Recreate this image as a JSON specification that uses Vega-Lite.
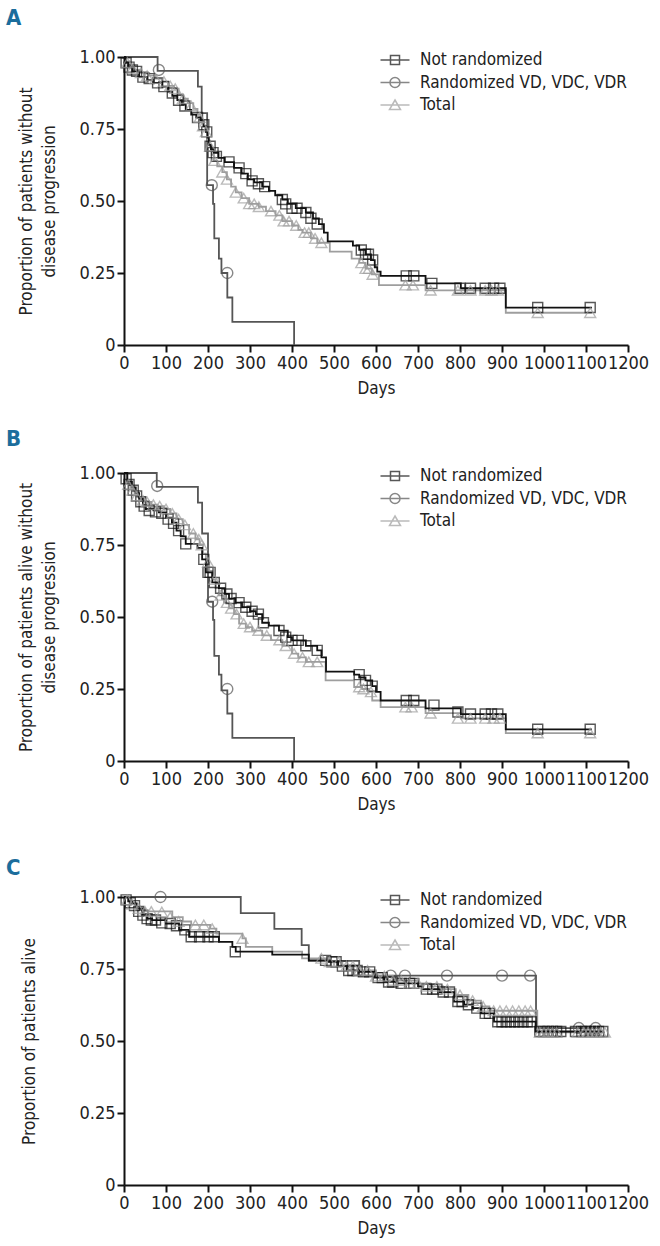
{
  "$schema": "https://vega.github.io/schema/vega-lite/v6.json",
  "padding": {"left": 6, "top": 7, "right": 5, "bottom": 5},
  "spacing": 32,
  "resolve": {"scale": {"color": "independent", "shape": "independent"}},
  "config": {
    "font": "DejaVu Sans Condensed, DejaVu Sans, sans-serif",
    "view": {"stroke": null},
    "axis": {"grid": false, "domainColor": "#111", "domainWidth": 2, "tickColor": "#111", "tickWidth": 2, "tickSize": 7, "labelFont": "DejaVu Sans Condensed, DejaVu Sans, sans-serif", "labelFontSize": 18, "labelColor": "#222", "labelPadding": 2, "titleFont": "DejaVu Sans Condensed, DejaVu Sans, sans-serif", "titleFontSize": 17, "titleFontWeight": "normal", "titleColor": "#222", "titleLineHeight": 23},
    "legend": {"orient": "none", "legendX": 260, "legendY": -8, "padding": 0, "labelFont": "DejaVu Sans Condensed, DejaVu Sans, sans-serif", "labelFontSize": 17, "labelColor": "#222", "labelOffset": 14, "rowPadding": 3.5, "symbolSize": 400, "symbolStrokeWidth": 1.5, "labelLimit": 400},
    "title": {"anchor": "start", "frame": "group", "dx": -118, "font": "DejaVu Sans Condensed, DejaVu Sans, sans-serif", "fontSize": 22, "fontWeight": "bold", "color": "#1b6d9c", "offset": 18}
  },
  "datasets": {
    "km": [
      {"p":"A","g":"N","d":0,"s":1},{"p":"A","g":"N","d":4,"s":0.98},{"p":"A","g":"N","d":10,"s":0.965},{"p":"A","g":"N","d":20,"s":0.95},{"p":"A","g":"N","d":36,"s":0.93},{"p":"A","g":"N","d":55,"s":0.92},{"p":"A","g":"N","d":70,"s":0.91},{"p":"A","g":"N","d":91,"s":0.897},{"p":"A","g":"N","d":105,"s":0.88},{"p":"A","g":"N","d":115,"s":0.865},{"p":"A","g":"N","d":127,"s":0.85},{"p":"A","g":"N","d":138,"s":0.835},{"p":"A","g":"N","d":147,"s":0.816},{"p":"A","g":"N","d":160,"s":0.8},{"p":"A","g":"N","d":172,"s":0.79},{"p":"A","g":"N","d":183,"s":0.78},{"p":"A","g":"N","d":190,"s":0.76},{"p":"A","g":"N","d":195,"s":0.74},{"p":"A","g":"N","d":199,"s":0.72},{"p":"A","g":"N","d":202,"s":0.695},{"p":"A","g":"N","d":207,"s":0.68},{"p":"A","g":"N","d":214,"s":0.667},{"p":"A","g":"N","d":225,"s":0.65},{"p":"A","g":"N","d":240,"s":0.635},{"p":"A","g":"N","d":262,"s":0.615},{"p":"A","g":"N","d":280,"s":0.595},{"p":"A","g":"N","d":295,"s":0.575},{"p":"A","g":"N","d":310,"s":0.565},{"p":"A","g":"N","d":329,"s":0.55},{"p":"A","g":"N","d":345,"s":0.535},{"p":"A","g":"N","d":360,"s":0.52},{"p":"A","g":"N","d":377,"s":0.505},{"p":"A","g":"N","d":390,"s":0.49},{"p":"A","g":"N","d":409,"s":0.475},{"p":"A","g":"N","d":433,"s":0.46},{"p":"A","g":"N","d":450,"s":0.44},{"p":"A","g":"N","d":464,"s":0.42},{"p":"A","g":"N","d":476,"s":0.39},{"p":"A","g":"N","d":485,"s":0.36},{"p":"A","g":"N","d":545,"s":0.345},{"p":"A","g":"N","d":560,"s":0.33},{"p":"A","g":"N","d":575,"s":0.315},{"p":"A","g":"N","d":588,"s":0.295},{"p":"A","g":"N","d":597,"s":0.27},{"p":"A","g":"N","d":603,"s":0.255},{"p":"A","g":"N","d":611,"s":0.24},{"p":"A","g":"N","d":718,"s":0.214},{"p":"A","g":"N","d":802,"s":0.197},{"p":"A","g":"N","d":909,"s":0.13},{"p":"A","g":"N","d":1114,"s":0.13},
      {"p":"A","g":"T","d":0,"s":1},{"p":"A","g":"T","d":5,"s":0.985},{"p":"A","g":"T","d":12,"s":0.97},{"p":"A","g":"T","d":25,"s":0.955},{"p":"A","g":"T","d":40,"s":0.945},{"p":"A","g":"T","d":60,"s":0.935},{"p":"A","g":"T","d":75,"s":0.925},{"p":"A","g":"T","d":90,"s":0.915},{"p":"A","g":"T","d":105,"s":0.9},{"p":"A","g":"T","d":119,"s":0.89},{"p":"A","g":"T","d":130,"s":0.87},{"p":"A","g":"T","d":140,"s":0.855},{"p":"A","g":"T","d":152,"s":0.84},{"p":"A","g":"T","d":165,"s":0.82},{"p":"A","g":"T","d":175,"s":0.8},{"p":"A","g":"T","d":182,"s":0.78},{"p":"A","g":"T","d":188,"s":0.76},{"p":"A","g":"T","d":194,"s":0.74},{"p":"A","g":"T","d":199,"s":0.71},{"p":"A","g":"T","d":204,"s":0.69},{"p":"A","g":"T","d":209,"s":0.66},{"p":"A","g":"T","d":214,"s":0.64},{"p":"A","g":"T","d":222,"s":0.62},{"p":"A","g":"T","d":234,"s":0.6},{"p":"A","g":"T","d":245,"s":0.575},{"p":"A","g":"T","d":255,"s":0.55},{"p":"A","g":"T","d":266,"s":0.53},{"p":"A","g":"T","d":280,"s":0.51},{"p":"A","g":"T","d":298,"s":0.49},{"p":"A","g":"T","d":321,"s":0.48},{"p":"A","g":"T","d":338,"s":0.465},{"p":"A","g":"T","d":361,"s":0.45},{"p":"A","g":"T","d":377,"s":0.43},{"p":"A","g":"T","d":400,"s":0.415},{"p":"A","g":"T","d":415,"s":0.4},{"p":"A","g":"T","d":425,"s":0.39},{"p":"A","g":"T","d":445,"s":0.37},{"p":"A","g":"T","d":460,"s":0.355},{"p":"A","g":"T","d":490,"s":0.324},{"p":"A","g":"T","d":542,"s":0.3},{"p":"A","g":"T","d":560,"s":0.285},{"p":"A","g":"T","d":575,"s":0.265},{"p":"A","g":"T","d":590,"s":0.245},{"p":"A","g":"T","d":607,"s":0.208},{"p":"A","g":"T","d":718,"s":0.19},{"p":"A","g":"T","d":909,"s":0.112},{"p":"A","g":"T","d":1114,"s":0.112},
      {"p":"A","g":"R","d":0,"s":1},{"p":"A","g":"R","d":80,"s":0.952},{"p":"A","g":"R","d":176,"s":0.897},{"p":"A","g":"R","d":185,"s":0.805},{"p":"A","g":"R","d":198,"s":0.555},{"p":"A","g":"R","d":212,"s":0.49},{"p":"A","g":"R","d":215,"s":0.37},{"p":"A","g":"R","d":226,"s":0.3},{"p":"A","g":"R","d":232,"s":0.25},{"p":"A","g":"R","d":246,"s":0.165},{"p":"A","g":"R","d":258,"s":0.08},{"p":"A","g":"R","d":405,"s":0},
      {"p":"B","g":"N","d":0,"s":1},{"p":"B","g":"N","d":8,"s":0.97},{"p":"B","g":"N","d":19,"s":0.95},{"p":"B","g":"N","d":28,"s":0.93},{"p":"B","g":"N","d":36,"s":0.91},{"p":"B","g":"N","d":45,"s":0.89},{"p":"B","g":"N","d":52,"s":0.875},{"p":"B","g":"N","d":70,"s":0.87},{"p":"B","g":"N","d":83,"s":0.863},{"p":"B","g":"N","d":100,"s":0.845},{"p":"B","g":"N","d":114,"s":0.828},{"p":"B","g":"N","d":125,"s":0.8},{"p":"B","g":"N","d":135,"s":0.78},{"p":"B","g":"N","d":147,"s":0.754},{"p":"B","g":"N","d":175,"s":0.74},{"p":"B","g":"N","d":186,"s":0.7},{"p":"B","g":"N","d":195,"s":0.655},{"p":"B","g":"N","d":210,"s":0.62},{"p":"B","g":"N","d":226,"s":0.6},{"p":"B","g":"N","d":240,"s":0.58},{"p":"B","g":"N","d":250,"s":0.564},{"p":"B","g":"N","d":265,"s":0.55},{"p":"B","g":"N","d":281,"s":0.534},{"p":"B","g":"N","d":300,"s":0.52},{"p":"B","g":"N","d":314,"s":0.51},{"p":"B","g":"N","d":329,"s":0.48},{"p":"B","g":"N","d":345,"s":0.47},{"p":"B","g":"N","d":369,"s":0.453},{"p":"B","g":"N","d":390,"s":0.43},{"p":"B","g":"N","d":400,"s":0.419},{"p":"B","g":"N","d":433,"s":0.4},{"p":"B","g":"N","d":460,"s":0.384},{"p":"B","g":"N","d":470,"s":0.36},{"p":"B","g":"N","d":481,"s":0.31},{"p":"B","g":"N","d":548,"s":0.3},{"p":"B","g":"N","d":560,"s":0.29},{"p":"B","g":"N","d":575,"s":0.28},{"p":"B","g":"N","d":591,"s":0.26},{"p":"B","g":"N","d":600,"s":0.24},{"p":"B","g":"N","d":611,"s":0.21},{"p":"B","g":"N","d":718,"s":0.183},{"p":"B","g":"N","d":802,"s":0.163},{"p":"B","g":"N","d":909,"s":0.11},{"p":"B","g":"N","d":1114,"s":0.11},
      {"p":"B","g":"T","d":0,"s":1},{"p":"B","g":"T","d":6,"s":0.97},{"p":"B","g":"T","d":15,"s":0.95},{"p":"B","g":"T","d":25,"s":0.93},{"p":"B","g":"T","d":35,"s":0.915},{"p":"B","g":"T","d":50,"s":0.9},{"p":"B","g":"T","d":65,"s":0.89},{"p":"B","g":"T","d":80,"s":0.885},{"p":"B","g":"T","d":95,"s":0.875},{"p":"B","g":"T","d":110,"s":0.86},{"p":"B","g":"T","d":125,"s":0.84},{"p":"B","g":"T","d":140,"s":0.82},{"p":"B","g":"T","d":155,"s":0.79},{"p":"B","g":"T","d":170,"s":0.77},{"p":"B","g":"T","d":180,"s":0.75},{"p":"B","g":"T","d":188,"s":0.72},{"p":"B","g":"T","d":195,"s":0.69},{"p":"B","g":"T","d":203,"s":0.66},{"p":"B","g":"T","d":210,"s":0.63},{"p":"B","g":"T","d":218,"s":0.6},{"p":"B","g":"T","d":226,"s":0.575},{"p":"B","g":"T","d":238,"s":0.55},{"p":"B","g":"T","d":250,"s":0.53},{"p":"B","g":"T","d":262,"s":0.51},{"p":"B","g":"T","d":274,"s":0.477},{"p":"B","g":"T","d":290,"s":0.465},{"p":"B","g":"T","d":305,"s":0.453},{"p":"B","g":"T","d":329,"s":0.436},{"p":"B","g":"T","d":350,"s":0.42},{"p":"B","g":"T","d":377,"s":0.4},{"p":"B","g":"T","d":400,"s":0.373},{"p":"B","g":"T","d":415,"s":0.36},{"p":"B","g":"T","d":433,"s":0.344},{"p":"B","g":"T","d":480,"s":0.28},{"p":"B","g":"T","d":548,"s":0.257},{"p":"B","g":"T","d":567,"s":0.25},{"p":"B","g":"T","d":583,"s":0.24},{"p":"B","g":"T","d":591,"s":0.21},{"p":"B","g":"T","d":611,"s":0.187},{"p":"B","g":"T","d":718,"s":0.166},{"p":"B","g":"T","d":802,"s":0.148},{"p":"B","g":"T","d":909,"s":0.097},{"p":"B","g":"T","d":1114,"s":0.097},
      {"p":"B","g":"R","d":0,"s":1},{"p":"B","g":"R","d":78,"s":0.952},{"p":"B","g":"R","d":176,"s":0.897},{"p":"B","g":"R","d":186,"s":0.79},{"p":"B","g":"R","d":200,"s":0.553},{"p":"B","g":"R","d":212,"s":0.49},{"p":"B","g":"R","d":215,"s":0.365},{"p":"B","g":"R","d":226,"s":0.3},{"p":"B","g":"R","d":232,"s":0.245},{"p":"B","g":"R","d":246,"s":0.165},{"p":"B","g":"R","d":258,"s":0.08},{"p":"B","g":"R","d":405,"s":0},
      {"p":"C","g":"N","d":0,"s":1},{"p":"C","g":"N","d":10,"s":0.985},{"p":"C","g":"N","d":20,"s":0.977},{"p":"C","g":"N","d":30,"s":0.96},{"p":"C","g":"N","d":43,"s":0.937},{"p":"C","g":"N","d":55,"s":0.925},{"p":"C","g":"N","d":67,"s":0.92},{"p":"C","g":"N","d":100,"s":0.908},{"p":"C","g":"N","d":131,"s":0.886},{"p":"C","g":"N","d":155,"s":0.862},{"p":"C","g":"N","d":226,"s":0.844},{"p":"C","g":"N","d":258,"s":0.827},{"p":"C","g":"N","d":266,"s":0.81},{"p":"C","g":"N","d":353,"s":0.8},{"p":"C","g":"N","d":440,"s":0.78},{"p":"C","g":"N","d":488,"s":0.775},{"p":"C","g":"N","d":510,"s":0.76},{"p":"C","g":"N","d":530,"s":0.745},{"p":"C","g":"N","d":560,"s":0.74},{"p":"C","g":"N","d":597,"s":0.72},{"p":"C","g":"N","d":620,"s":0.705},{"p":"C","g":"N","d":650,"s":0.7},{"p":"C","g":"N","d":700,"s":0.69},{"p":"C","g":"N","d":712,"s":0.68},{"p":"C","g":"N","d":752,"s":0.67},{"p":"C","g":"N","d":786,"s":0.637},{"p":"C","g":"N","d":810,"s":0.626},{"p":"C","g":"N","d":830,"s":0.614},{"p":"C","g":"N","d":850,"s":0.596},{"p":"C","g":"N","d":881,"s":0.567},{"p":"C","g":"N","d":980,"s":0.533},{"p":"C","g":"N","d":1140,"s":0.533},
      {"p":"C","g":"T","d":0,"s":1},{"p":"C","g":"T","d":15,"s":0.98},{"p":"C","g":"T","d":30,"s":0.96},{"p":"C","g":"T","d":50,"s":0.95},{"p":"C","g":"T","d":115,"s":0.93},{"p":"C","g":"T","d":140,"s":0.915},{"p":"C","g":"T","d":160,"s":0.903},{"p":"C","g":"T","d":205,"s":0.89},{"p":"C","g":"T","d":220,"s":0.873},{"p":"C","g":"T","d":282,"s":0.856},{"p":"C","g":"T","d":290,"s":0.827},{"p":"C","g":"T","d":353,"s":0.81},{"p":"C","g":"T","d":424,"s":0.787},{"p":"C","g":"T","d":488,"s":0.775},{"p":"C","g":"T","d":520,"s":0.76},{"p":"C","g":"T","d":560,"s":0.745},{"p":"C","g":"T","d":600,"s":0.725},{"p":"C","g":"T","d":640,"s":0.71},{"p":"C","g":"T","d":700,"s":0.7},{"p":"C","g":"T","d":730,"s":0.69},{"p":"C","g":"T","d":760,"s":0.68},{"p":"C","g":"T","d":790,"s":0.66},{"p":"C","g":"T","d":820,"s":0.64},{"p":"C","g":"T","d":850,"s":0.62},{"p":"C","g":"T","d":870,"s":0.605},{"p":"C","g":"T","d":984,"s":0.53},{"p":"C","g":"T","d":1145,"s":0.53},
      {"p":"C","g":"R","d":0,"s":1},{"p":"C","g":"R","d":278,"s":0.944},{"p":"C","g":"R","d":358,"s":0.889},{"p":"C","g":"R","d":423,"s":0.833},{"p":"C","g":"R","d":440,"s":0.778},{"p":"C","g":"R","d":560,"s":0.727},{"p":"C","g":"R","d":981,"s":0.545},{"p":"C","g":"R","d":1130,"s":0.545}
    ],
    "cens": [
      {"p":"A","g":"R","d":83,"s":0.955},{"p":"A","g":"R","d":209,"s":0.555},{"p":"A","g":"R","d":246,"s":0.25},
      {"p":"A","g":"N","d":5,"s":0.98},{"p":"A","g":"N","d":12,"s":0.965},{"p":"A","g":"N","d":20,"s":0.955},{"p":"A","g":"N","d":30,"s":0.95},{"p":"A","g":"N","d":45,"s":0.93},{"p":"A","g":"N","d":60,"s":0.925},{"p":"A","g":"N","d":80,"s":0.91},{"p":"A","g":"N","d":95,"s":0.897},{"p":"A","g":"N","d":115,"s":0.875},{"p":"A","g":"N","d":130,"s":0.85},{"p":"A","g":"N","d":145,"s":0.83},{"p":"A","g":"N","d":175,"s":0.79},{"p":"A","g":"N","d":190,"s":0.765},{"p":"A","g":"N","d":197,"s":0.74},{"p":"A","g":"N","d":205,"s":0.69},{"p":"A","g":"N","d":212,"s":0.668},{"p":"A","g":"N","d":220,"s":0.655},{"p":"A","g":"N","d":250,"s":0.636},{"p":"A","g":"N","d":274,"s":0.615},{"p":"A","g":"N","d":290,"s":0.595},{"p":"A","g":"N","d":305,"s":0.57},{"p":"A","g":"N","d":320,"s":0.56},{"p":"A","g":"N","d":335,"s":0.55},{"p":"A","g":"N","d":377,"s":0.505},{"p":"A","g":"N","d":385,"s":0.49},{"p":"A","g":"N","d":400,"s":0.475},{"p":"A","g":"N","d":412,"s":0.475},{"p":"A","g":"N","d":433,"s":0.46},{"p":"A","g":"N","d":445,"s":0.44},{"p":"A","g":"N","d":460,"s":0.42},{"p":"A","g":"N","d":565,"s":0.33},{"p":"A","g":"N","d":575,"s":0.315},{"p":"A","g":"N","d":582,"s":0.315},{"p":"A","g":"N","d":592,"s":0.295},{"p":"A","g":"N","d":672,"s":0.24},{"p":"A","g":"N","d":690,"s":0.24},{"p":"A","g":"N","d":733,"s":0.214},{"p":"A","g":"N","d":800,"s":0.197},{"p":"A","g":"N","d":825,"s":0.197},{"p":"A","g":"N","d":860,"s":0.197},{"p":"A","g":"N","d":880,"s":0.197},{"p":"A","g":"N","d":895,"s":0.197},{"p":"A","g":"N","d":985,"s":0.13},{"p":"A","g":"N","d":1110,"s":0.13},
      {"p":"A","g":"T","d":8,"s":0.98},{"p":"A","g":"T","d":20,"s":0.96},{"p":"A","g":"T","d":40,"s":0.945},{"p":"A","g":"T","d":55,"s":0.935},{"p":"A","g":"T","d":75,"s":0.925},{"p":"A","g":"T","d":95,"s":0.915},{"p":"A","g":"T","d":110,"s":0.9},{"p":"A","g":"T","d":122,"s":0.89},{"p":"A","g":"T","d":140,"s":0.855},{"p":"A","g":"T","d":160,"s":0.83},{"p":"A","g":"T","d":180,"s":0.79},{"p":"A","g":"T","d":188,"s":0.76},{"p":"A","g":"T","d":195,"s":0.74},{"p":"A","g":"T","d":205,"s":0.69},{"p":"A","g":"T","d":215,"s":0.64},{"p":"A","g":"T","d":234,"s":0.6},{"p":"A","g":"T","d":245,"s":0.575},{"p":"A","g":"T","d":266,"s":0.53},{"p":"A","g":"T","d":285,"s":0.51},{"p":"A","g":"T","d":298,"s":0.49},{"p":"A","g":"T","d":310,"s":0.49},{"p":"A","g":"T","d":321,"s":0.48},{"p":"A","g":"T","d":350,"s":0.465},{"p":"A","g":"T","d":370,"s":0.45},{"p":"A","g":"T","d":380,"s":0.43},{"p":"A","g":"T","d":393,"s":0.43},{"p":"A","g":"T","d":410,"s":0.415},{"p":"A","g":"T","d":430,"s":0.39},{"p":"A","g":"T","d":440,"s":0.39},{"p":"A","g":"T","d":455,"s":0.37},{"p":"A","g":"T","d":470,"s":0.355},{"p":"A","g":"T","d":565,"s":0.285},{"p":"A","g":"T","d":575,"s":0.265},{"p":"A","g":"T","d":583,"s":0.265},{"p":"A","g":"T","d":592,"s":0.245},{"p":"A","g":"T","d":670,"s":0.208},{"p":"A","g":"T","d":688,"s":0.208},{"p":"A","g":"T","d":730,"s":0.19},{"p":"A","g":"T","d":795,"s":0.19},{"p":"A","g":"T","d":825,"s":0.19},{"p":"A","g":"T","d":860,"s":0.19},{"p":"A","g":"T","d":875,"s":0.19},{"p":"A","g":"T","d":890,"s":0.19},{"p":"A","g":"T","d":985,"s":0.112},{"p":"A","g":"T","d":1110,"s":0.112},
      {"p":"B","g":"R","d":79,"s":0.955},{"p":"B","g":"R","d":210,"s":0.553},{"p":"B","g":"R","d":246,"s":0.25},
      {"p":"B","g":"N","d":5,"s":0.98},{"p":"B","g":"N","d":12,"s":0.96},{"p":"B","g":"N","d":22,"s":0.94},{"p":"B","g":"N","d":30,"s":0.92},{"p":"B","g":"N","d":40,"s":0.9},{"p":"B","g":"N","d":48,"s":0.885},{"p":"B","g":"N","d":60,"s":0.87},{"p":"B","g":"N","d":75,"s":0.865},{"p":"B","g":"N","d":90,"s":0.86},{"p":"B","g":"N","d":105,"s":0.84},{"p":"B","g":"N","d":118,"s":0.825},{"p":"B","g":"N","d":130,"s":0.8},{"p":"B","g":"N","d":147,"s":0.754},{"p":"B","g":"N","d":190,"s":0.7},{"p":"B","g":"N","d":200,"s":0.655},{"p":"B","g":"N","d":205,"s":0.655},{"p":"B","g":"N","d":215,"s":0.62},{"p":"B","g":"N","d":230,"s":0.6},{"p":"B","g":"N","d":245,"s":0.58},{"p":"B","g":"N","d":255,"s":0.564},{"p":"B","g":"N","d":274,"s":0.55},{"p":"B","g":"N","d":290,"s":0.534},{"p":"B","g":"N","d":305,"s":0.52},{"p":"B","g":"N","d":320,"s":0.51},{"p":"B","g":"N","d":332,"s":0.48},{"p":"B","g":"N","d":369,"s":0.453},{"p":"B","g":"N","d":385,"s":0.43},{"p":"B","g":"N","d":400,"s":0.419},{"p":"B","g":"N","d":415,"s":0.419},{"p":"B","g":"N","d":433,"s":0.4},{"p":"B","g":"N","d":460,"s":0.384},{"p":"B","g":"N","d":560,"s":0.3},{"p":"B","g":"N","d":575,"s":0.28},{"p":"B","g":"N","d":591,"s":0.26},{"p":"B","g":"N","d":672,"s":0.21},{"p":"B","g":"N","d":690,"s":0.21},{"p":"B","g":"N","d":738,"s":0.194},{"p":"B","g":"N","d":795,"s":0.17},{"p":"B","g":"N","d":825,"s":0.163},{"p":"B","g":"N","d":860,"s":0.163},{"p":"B","g":"N","d":875,"s":0.163},{"p":"B","g":"N","d":890,"s":0.163},{"p":"B","g":"N","d":985,"s":0.11},{"p":"B","g":"N","d":1110,"s":0.11},
      {"p":"B","g":"T","d":10,"s":0.96},{"p":"B","g":"T","d":20,"s":0.94},{"p":"B","g":"T","d":30,"s":0.92},{"p":"B","g":"T","d":45,"s":0.905},{"p":"B","g":"T","d":55,"s":0.9},{"p":"B","g":"T","d":70,"s":0.89},{"p":"B","g":"T","d":85,"s":0.885},{"p":"B","g":"T","d":100,"s":0.875},{"p":"B","g":"T","d":115,"s":0.86},{"p":"B","g":"T","d":130,"s":0.84},{"p":"B","g":"T","d":145,"s":0.82},{"p":"B","g":"T","d":165,"s":0.79},{"p":"B","g":"T","d":178,"s":0.77},{"p":"B","g":"T","d":185,"s":0.75},{"p":"B","g":"T","d":200,"s":0.69},{"p":"B","g":"T","d":215,"s":0.63},{"p":"B","g":"T","d":230,"s":0.575},{"p":"B","g":"T","d":245,"s":0.55},{"p":"B","g":"T","d":255,"s":0.53},{"p":"B","g":"T","d":268,"s":0.51},{"p":"B","g":"T","d":285,"s":0.477},{"p":"B","g":"T","d":300,"s":0.465},{"p":"B","g":"T","d":320,"s":0.453},{"p":"B","g":"T","d":340,"s":0.436},{"p":"B","g":"T","d":370,"s":0.42},{"p":"B","g":"T","d":385,"s":0.4},{"p":"B","g":"T","d":405,"s":0.373},{"p":"B","g":"T","d":425,"s":0.36},{"p":"B","g":"T","d":440,"s":0.344},{"p":"B","g":"T","d":460,"s":0.344},{"p":"B","g":"T","d":560,"s":0.257},{"p":"B","g":"T","d":570,"s":0.25},{"p":"B","g":"T","d":588,"s":0.24},{"p":"B","g":"T","d":670,"s":0.187},{"p":"B","g":"T","d":685,"s":0.187},{"p":"B","g":"T","d":730,"s":0.166},{"p":"B","g":"T","d":795,"s":0.148},{"p":"B","g":"T","d":825,"s":0.148},{"p":"B","g":"T","d":860,"s":0.148},{"p":"B","g":"T","d":880,"s":0.148},{"p":"B","g":"T","d":895,"s":0.148},{"p":"B","g":"T","d":985,"s":0.097},{"p":"B","g":"T","d":1110,"s":0.097},
      {"p":"C","g":"R","d":87,"s":1},{"p":"C","g":"R","d":635,"s":0.727},{"p":"C","g":"R","d":669,"s":0.727},{"p":"C","g":"R","d":769,"s":0.727},{"p":"C","g":"R","d":900,"s":0.727},{"p":"C","g":"R","d":967,"s":0.727},{"p":"C","g":"R","d":1083,"s":0.545},{"p":"C","g":"R","d":1123,"s":0.545},
      {"p":"C","g":"N","d":5,"s":0.99},{"p":"C","g":"N","d":15,"s":0.98},{"p":"C","g":"N","d":25,"s":0.97},{"p":"C","g":"N","d":35,"s":0.95},{"p":"C","g":"N","d":45,"s":0.937},{"p":"C","g":"N","d":55,"s":0.925},{"p":"C","g":"N","d":65,"s":0.92},{"p":"C","g":"N","d":75,"s":0.92},{"p":"C","g":"N","d":90,"s":0.91},{"p":"C","g":"N","d":110,"s":0.908},{"p":"C","g":"N","d":125,"s":0.9},{"p":"C","g":"N","d":145,"s":0.886},{"p":"C","g":"N","d":160,"s":0.862},{"p":"C","g":"N","d":180,"s":0.862},{"p":"C","g":"N","d":200,"s":0.862},{"p":"C","g":"N","d":215,"s":0.862},{"p":"C","g":"N","d":265,"s":0.81},{"p":"C","g":"N","d":480,"s":0.78},{"p":"C","g":"N","d":495,"s":0.775},{"p":"C","g":"N","d":505,"s":0.775},{"p":"C","g":"N","d":520,"s":0.76},{"p":"C","g":"N","d":535,"s":0.745},{"p":"C","g":"N","d":545,"s":0.745},{"p":"C","g":"N","d":555,"s":0.745},{"p":"C","g":"N","d":570,"s":0.74},{"p":"C","g":"N","d":585,"s":0.74},{"p":"C","g":"N","d":605,"s":0.72},{"p":"C","g":"N","d":615,"s":0.72},{"p":"C","g":"N","d":630,"s":0.705},{"p":"C","g":"N","d":640,"s":0.705},{"p":"C","g":"N","d":660,"s":0.7},{"p":"C","g":"N","d":680,"s":0.7},{"p":"C","g":"N","d":690,"s":0.7},{"p":"C","g":"N","d":720,"s":0.68},{"p":"C","g":"N","d":735,"s":0.68},{"p":"C","g":"N","d":745,"s":0.68},{"p":"C","g":"N","d":760,"s":0.67},{"p":"C","g":"N","d":775,"s":0.67},{"p":"C","g":"N","d":795,"s":0.637},{"p":"C","g":"N","d":805,"s":0.637},{"p":"C","g":"N","d":820,"s":0.626},{"p":"C","g":"N","d":840,"s":0.614},{"p":"C","g":"N","d":860,"s":0.596},{"p":"C","g":"N","d":870,"s":0.596},{"p":"C","g":"N","d":890,"s":0.567},{"p":"C","g":"N","d":900,"s":0.567},{"p":"C","g":"N","d":910,"s":0.567},{"p":"C","g":"N","d":920,"s":0.567},{"p":"C","g":"N","d":930,"s":0.567},{"p":"C","g":"N","d":940,"s":0.567},{"p":"C","g":"N","d":950,"s":0.567},{"p":"C","g":"N","d":960,"s":0.567},{"p":"C","g":"N","d":970,"s":0.567},{"p":"C","g":"N","d":990,"s":0.533},{"p":"C","g":"N","d":1000,"s":0.533},{"p":"C","g":"N","d":1010,"s":0.533},{"p":"C","g":"N","d":1020,"s":0.533},{"p":"C","g":"N","d":1030,"s":0.533},{"p":"C","g":"N","d":1040,"s":0.533},{"p":"C","g":"N","d":1075,"s":0.533},{"p":"C","g":"N","d":1090,"s":0.533},{"p":"C","g":"N","d":1100,"s":0.533},{"p":"C","g":"N","d":1110,"s":0.533},{"p":"C","g":"N","d":1120,"s":0.533},{"p":"C","g":"N","d":1130,"s":0.533},{"p":"C","g":"N","d":1140,"s":0.533},
      {"p":"C","g":"T","d":8,"s":0.99},{"p":"C","g":"T","d":20,"s":0.975},{"p":"C","g":"T","d":35,"s":0.96},{"p":"C","g":"T","d":50,"s":0.95},{"p":"C","g":"T","d":65,"s":0.95},{"p":"C","g":"T","d":90,"s":0.948},{"p":"C","g":"T","d":110,"s":0.93},{"p":"C","g":"T","d":130,"s":0.915},{"p":"C","g":"T","d":170,"s":0.903},{"p":"C","g":"T","d":190,"s":0.903},{"p":"C","g":"T","d":210,"s":0.89},{"p":"C","g":"T","d":282,"s":0.856},{"p":"C","g":"T","d":470,"s":0.787},{"p":"C","g":"T","d":490,"s":0.775},{"p":"C","g":"T","d":510,"s":0.775},{"p":"C","g":"T","d":530,"s":0.76},{"p":"C","g":"T","d":545,"s":0.76},{"p":"C","g":"T","d":560,"s":0.745},{"p":"C","g":"T","d":580,"s":0.745},{"p":"C","g":"T","d":600,"s":0.725},{"p":"C","g":"T","d":620,"s":0.725},{"p":"C","g":"T","d":640,"s":0.71},{"p":"C","g":"T","d":660,"s":0.71},{"p":"C","g":"T","d":680,"s":0.7},{"p":"C","g":"T","d":700,"s":0.7},{"p":"C","g":"T","d":720,"s":0.69},{"p":"C","g":"T","d":745,"s":0.69},{"p":"C","g":"T","d":770,"s":0.68},{"p":"C","g":"T","d":800,"s":0.66},{"p":"C","g":"T","d":830,"s":0.64},{"p":"C","g":"T","d":855,"s":0.62},{"p":"C","g":"T","d":880,"s":0.605},{"p":"C","g":"T","d":895,"s":0.605},{"p":"C","g":"T","d":910,"s":0.605},{"p":"C","g":"T","d":925,"s":0.605},{"p":"C","g":"T","d":940,"s":0.605},{"p":"C","g":"T","d":955,"s":0.605},{"p":"C","g":"T","d":968,"s":0.605},{"p":"C","g":"T","d":990,"s":0.53},{"p":"C","g":"T","d":1000,"s":0.53},{"p":"C","g":"T","d":1010,"s":0.53},{"p":"C","g":"T","d":1020,"s":0.53},{"p":"C","g":"T","d":1030,"s":0.53},{"p":"C","g":"T","d":1080,"s":0.53},{"p":"C","g":"T","d":1095,"s":0.53},{"p":"C","g":"T","d":1105,"s":0.53},{"p":"C","g":"T","d":1115,"s":0.53},{"p":"C","g":"T","d":1125,"s":0.53},{"p":"C","g":"T","d":1135,"s":0.53},{"p":"C","g":"T","d":1145,"s":0.53}
    ]
  },
  "vconcat": [
    {
      "width": 504, "height": 288,
      "title": {"text": "A", "offset": 18},
      "encoding": {
        "x": {"field": "d", "type": "quantitative", "scale": {"domain": [0, 1200], "nice": false}, "axis": {"values": [0,100,200,300,400,500,600,700,800,900,1000,1100,1200], "format": "d", "title": "Days", "labelOverlap": false, "labelFlush": false, "titlePadding": 8}},
        "y": {"field": "s", "type": "quantitative", "scale": {"domain": [0, 1], "nice": false}, "axis": {"values": [0,0.25,0.5,0.75,1], "labelExpr": "datum.value === 0 ? '0' : format(datum.value, '.2f')", "title": ["Proportion of patients without", "disease progression"], "titlePadding": 20}}
      },
      "layer": [
        {"data": {"values": [{}]}, "mark": {"type": "rule", "color": "#111", "strokeWidth": 1.8}, "encoding": {"x": {"datum": 0, "type": "quantitative"}, "x2": {"datum": 1200}, "y": {"datum": 0.5, "type": "quantitative"}}},
        {"data": {"name": "km"}, "transform": [{"filter": "datum.p === 'A' && datum.g === 'R'"}], "mark": {"type": "line", "interpolate": "step-after", "strokeWidth": 1.8, "color": "#555555"}},
        {"data": {"name": "km"}, "transform": [{"filter": "datum.p === 'A' && datum.g === 'T'"}], "mark": {"type": "line", "interpolate": "step-after", "strokeWidth": 1.8, "color": "#9e9e9e"}},
        {"data": {"name": "km"}, "transform": [{"filter": "datum.p === 'A' && datum.g === 'N'"}], "mark": {"type": "line", "interpolate": "step-after", "strokeWidth": 1.8, "color": "#111111"}},
        {"data": {"name": "cens"}, "transform": [{"filter": "datum.p === 'A' && datum.g === 'R'"}], "mark": {"type": "point", "shape": "circle", "filled": false, "size": 120, "strokeWidth": 1.4, "color": "#555555"}},
        {"data": {"name": "cens"}, "transform": [{"filter": "datum.p === 'A' && datum.g === 'N'"}], "mark": {"type": "point", "shape": "square", "filled": false, "size": 100, "strokeWidth": 1.4, "color": "#111111"}},
        {"data": {"name": "cens"}, "transform": [{"filter": "datum.p === 'A' && datum.g === 'T'"}], "mark": {"type": "point", "shape": "triangle-up", "filled": false, "size": 120, "strokeWidth": 1.4, "color": "#9e9e9e"}},
        {"data": {"name": "cens"}, "transform": [{"filter": "false"}], "mark": {"type": "point", "filled": false, "size": 400, "strokeWidth": 1.5},
         "encoding": {
           "color": {"field": "g", "type": "nominal", "scale": {"domain": ["N","R","T"], "range": ["#111111","#555555","#9e9e9e"]}, "legend": {"title": null, "labelExpr": "datum.value === 'N' ? 'Not randomized' : datum.value === 'R' ? 'Randomized VD, VDC, VDR' : 'Total'"}},
           "shape": {"field": "g", "type": "nominal", "scale": {"domain": ["N","R","T"], "range": ["M-1.45,0H1.45M-0.45,-0.45H0.45V0.45H-0.45Z", "M-1.45,0H1.45M0.5,0A0.5,0.5,0,1,1,-0.5,0A0.5,0.5,0,1,1,0.5,0", "M-1.45,0H1.45M0,-0.5L0.55,0.45H-0.55Z"]}, "legend": {"title": null, "labelExpr": "datum.value === 'N' ? 'Not randomized' : datum.value === 'R' ? 'Randomized VD, VDC, VDR' : 'Total'"}}
         }}
      ]
    },
    {
      "width": 504, "height": 288,
      "title": {"text": "B", "offset": 13},
      "encoding": {
        "x": {"field": "d", "type": "quantitative", "scale": {"domain": [0, 1200], "nice": false}, "axis": {"values": [0,100,200,300,400,500,600,700,800,900,1000,1100,1200], "format": "d", "title": ["Days", " "], "titleLineHeight": 13, "labelOverlap": false, "labelFlush": false, "titlePadding": 8}},
        "y": {"field": "s", "type": "quantitative", "scale": {"domain": [0, 1], "nice": false}, "axis": {"values": [0,0.25,0.5,0.75,1], "labelExpr": "datum.value === 0 ? '0' : format(datum.value, '.2f')", "title": ["Proportion of patients alive without", "disease progression"], "titlePadding": 20}}
      },
      "layer": [
        {"data": {"values": [{}]}, "mark": {"type": "rule", "color": "#111", "strokeWidth": 1.8}, "encoding": {"x": {"datum": 0, "type": "quantitative"}, "x2": {"datum": 1200}, "y": {"datum": 0.5, "type": "quantitative"}}},
        {"data": {"name": "km"}, "transform": [{"filter": "datum.p === 'B' && datum.g === 'R'"}], "mark": {"type": "line", "interpolate": "step-after", "strokeWidth": 1.8, "color": "#555555"}},
        {"data": {"name": "km"}, "transform": [{"filter": "datum.p === 'B' && datum.g === 'T'"}], "mark": {"type": "line", "interpolate": "step-after", "strokeWidth": 1.8, "color": "#9e9e9e"}},
        {"data": {"name": "km"}, "transform": [{"filter": "datum.p === 'B' && datum.g === 'N'"}], "mark": {"type": "line", "interpolate": "step-after", "strokeWidth": 1.8, "color": "#111111"}},
        {"data": {"name": "cens"}, "transform": [{"filter": "datum.p === 'B' && datum.g === 'R'"}], "mark": {"type": "point", "shape": "circle", "filled": false, "size": 120, "strokeWidth": 1.4, "color": "#555555"}},
        {"data": {"name": "cens"}, "transform": [{"filter": "datum.p === 'B' && datum.g === 'N'"}], "mark": {"type": "point", "shape": "square", "filled": false, "size": 100, "strokeWidth": 1.4, "color": "#111111"}},
        {"data": {"name": "cens"}, "transform": [{"filter": "datum.p === 'B' && datum.g === 'T'"}], "mark": {"type": "point", "shape": "triangle-up", "filled": false, "size": 120, "strokeWidth": 1.4, "color": "#9e9e9e"}},
        {"data": {"name": "cens"}, "transform": [{"filter": "false"}], "mark": {"type": "point", "filled": false, "size": 400, "strokeWidth": 1.5},
         "encoding": {
           "color": {"field": "g", "type": "nominal", "scale": {"domain": ["N","R","T"], "range": ["#111111","#555555","#9e9e9e"]}, "legend": {"title": null, "labelExpr": "datum.value === 'N' ? 'Not randomized' : datum.value === 'R' ? 'Randomized VD, VDC, VDR' : 'Total'"}},
           "shape": {"field": "g", "type": "nominal", "scale": {"domain": ["N","R","T"], "range": ["M-1.45,0H1.45M-0.45,-0.45H0.45V0.45H-0.45Z", "M-1.45,0H1.45M0.5,0A0.5,0.5,0,1,1,-0.5,0A0.5,0.5,0,1,1,0.5,0", "M-1.45,0H1.45M0,-0.5L0.55,0.45H-0.55Z"]}, "legend": {"title": null, "labelExpr": "datum.value === 'N' ? 'Not randomized' : datum.value === 'R' ? 'Randomized VD, VDC, VDR' : 'Total'"}}
         }}
      ]
    },
    {
      "width": 504, "height": 288,
      "title": {"text": "C", "offset": 8},
      "encoding": {
        "x": {"field": "d", "type": "quantitative", "scale": {"domain": [0, 1200], "nice": false}, "axis": {"values": [0,100,200,300,400,500,600,700,800,900,1000,1100,1200], "format": "d", "title": "Days", "labelOverlap": false, "labelFlush": false, "titlePadding": 8}},
        "y": {"field": "s", "type": "quantitative", "scale": {"domain": [0, 1], "nice": false}, "axis": {"values": [0,0.25,0.5,0.75,1], "labelExpr": "datum.value === 0 ? '0' : format(datum.value, '.2f')", "title": "Proportion of patients alive", "titlePadding": 40}}
      },
      "layer": [
        {"data": {"values": [{}]}, "mark": {"type": "rule", "color": "#111", "strokeWidth": 1.8}, "encoding": {"x": {"datum": 0, "type": "quantitative"}, "x2": {"datum": 1200}, "y": {"datum": 0.5, "type": "quantitative"}}},
        {"data": {"name": "km"}, "transform": [{"filter": "datum.p === 'C' && datum.g === 'R'"}], "mark": {"type": "line", "interpolate": "step-after", "strokeWidth": 1.8, "color": "#555555"}},
        {"data": {"name": "km"}, "transform": [{"filter": "datum.p === 'C' && datum.g === 'T'"}], "mark": {"type": "line", "interpolate": "step-after", "strokeWidth": 1.8, "color": "#9e9e9e"}},
        {"data": {"name": "km"}, "transform": [{"filter": "datum.p === 'C' && datum.g === 'N'"}], "mark": {"type": "line", "interpolate": "step-after", "strokeWidth": 1.8, "color": "#111111"}},
        {"data": {"name": "cens"}, "transform": [{"filter": "datum.p === 'C' && datum.g === 'R'"}], "mark": {"type": "point", "shape": "circle", "filled": false, "size": 120, "strokeWidth": 1.4, "color": "#555555"}},
        {"data": {"name": "cens"}, "transform": [{"filter": "datum.p === 'C' && datum.g === 'N'"}], "mark": {"type": "point", "shape": "square", "filled": false, "size": 100, "strokeWidth": 1.4, "color": "#111111"}},
        {"data": {"name": "cens"}, "transform": [{"filter": "datum.p === 'C' && datum.g === 'T'"}], "mark": {"type": "point", "shape": "triangle-up", "filled": false, "size": 120, "strokeWidth": 1.4, "color": "#9e9e9e"}},
        {"data": {"name": "cens"}, "transform": [{"filter": "false"}], "mark": {"type": "point", "filled": false, "size": 400, "strokeWidth": 1.5},
         "encoding": {
           "color": {"field": "g", "type": "nominal", "scale": {"domain": ["N","R","T"], "range": ["#111111","#555555","#9e9e9e"]}, "legend": {"title": null, "labelExpr": "datum.value === 'N' ? 'Not randomized' : datum.value === 'R' ? 'Randomized VD, VDC, VDR' : 'Total'"}},
           "shape": {"field": "g", "type": "nominal", "scale": {"domain": ["N","R","T"], "range": ["M-1.45,0H1.45M-0.45,-0.45H0.45V0.45H-0.45Z", "M-1.45,0H1.45M0.5,0A0.5,0.5,0,1,1,-0.5,0A0.5,0.5,0,1,1,0.5,0", "M-1.45,0H1.45M0,-0.5L0.55,0.45H-0.55Z"]}, "legend": {"title": null, "labelExpr": "datum.value === 'N' ? 'Not randomized' : datum.value === 'R' ? 'Randomized VD, VDC, VDR' : 'Total'"}}
         }}
      ]
    }
  ]
}
